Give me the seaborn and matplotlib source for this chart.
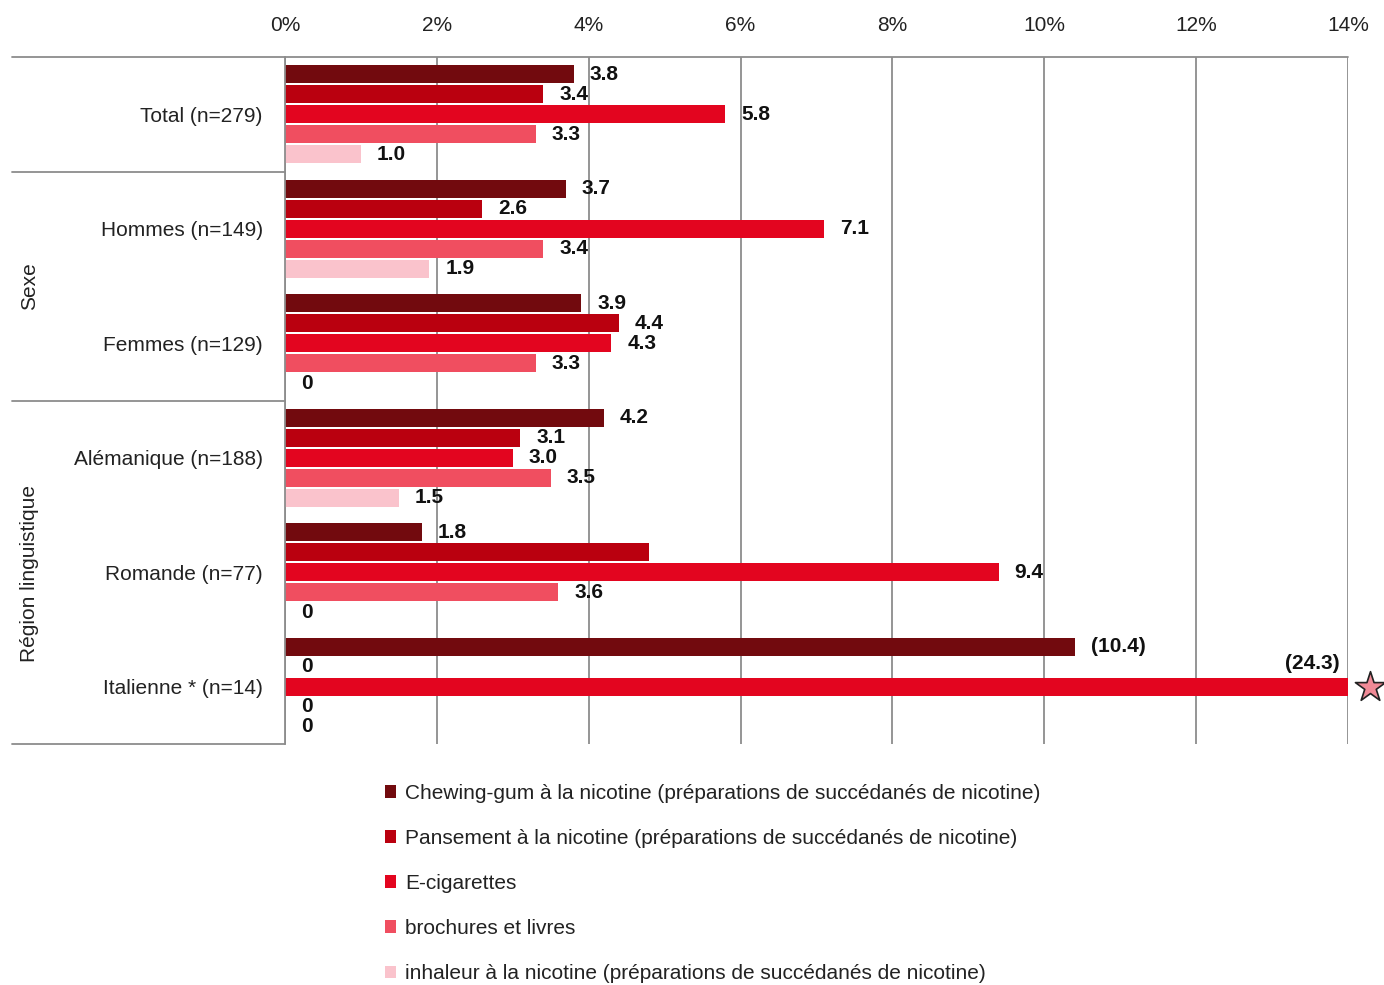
import pandas as pd
import matplotlib.pyplot as plt
import matplotlib.transforms as mtransforms
import seaborn as sns
import warnings
warnings.filterwarnings('ignore')

# --- data ---
categories = ['Total (n=279)', 'Hommes (n=149)', 'Femmes (n=129)',
              'Alémanique (n=188)', 'Romande (n=77)', 'Italienne * (n=14)']
series = ['Chewing-gum à la nicotine (préparations de succédanés de nicotine)',
          'Pansement à la nicotine (préparations de succédanés de nicotine)',
          'E-cigarettes',
          'brochures et livres',
          'inhaleur à la nicotine (préparations de succédanés de nicotine)']

chewing_gum = [3.8, 3.7, 3.9, 4.2, 1.8, 10.4]
pansement = [3.4, 2.6, 4.4, 3.1, 4.8, 0]
e_cig = [5.8, 7.1, 4.3, 3.0, 9.4, 24.3]
brochures = [3.3, 3.4, 3.3, 3.5, 3.6, 0]
inhaleur = [1.0, 1.9, 0, 1.5, 0, 0]

chewing_gum_lbl = ['3.8', '3.7', '3.9', '4.2', '1.8', '(10.4)']
pansement_lbl = ['3.4', '2.6', '4.4', '3.1', '', '0']
e_cig_lbl = ['5.8', '7.1', '4.3', '3.0', '9.4', '(24.3)']
brochures_lbl = ['3.3', '3.4', '3.3', '3.5', '3.6', '0']
inhaleur_lbl = ['1.0', '1.9', '0', '1.5', '0', '0']

colors = ['#720A0E', '#BA000F', '#E3051F', '#F04E60', '#FAC3CC']
x_max = 14

values = [chewing_gum, pansement, e_cig, brochures, inhaleur]
labels = [chewing_gum_lbl, pansement_lbl, e_cig_lbl, brochures_lbl, inhaleur_lbl]

rows = []
for s, vals in zip(series, values):
    for c, v in zip(categories, vals):
        rows.append({'Catégorie': c, 'Produit': s, 'Valeur': v})
df = pd.DataFrame(rows)

sns.set_theme(style='white')
plt.rcParams['font.family'] = ['Liberation Sans', 'DejaVu Sans']

fig = plt.figure(figsize=(13.84, 9.85), dpi=100)
ax = fig.add_axes([285 / 1384, 1 - 744 / 985, 1063 / 1384, 687 / 985])

sns.barplot(data=df, y='Catégorie', x='Valeur', hue='Produit', order=categories,
            hue_order=series, palette=colors, saturation=1, width=0.87, gap=0.1,
            orient='h', linewidth=0, ax=ax, legend=True)

ax.set_xlim(0, x_max)
ax.set_ylim(len(categories) - 0.5, -0.5)
ax.set_xticks(range(0, x_max + 1, 2))
ax.set_xticklabels([f'{t}%' for t in range(0, x_max + 1, 2)])
ax.xaxis.tick_top()
ax.set_xlabel('')
ax.set_ylabel('')
ax.tick_params(axis='x', length=0, pad=16, labelsize=15, colors='#222222')
ax.tick_params(axis='y', length=0, pad=16, labelsize=15, colors='#222222')
ax.grid(axis='x', color='#8c8c8c', linewidth=1.3)
ax.set_axisbelow(True)
for side in ['top', 'bottom', 'right']:
    ax.spines[side].set_visible(False)
ax.spines['left'].set_color('#8c8c8c')
ax.spines['left'].set_linewidth(1.3)

# separators extending into the label area
sep_tf = ax.get_yaxis_transform()
left_edge = (12 - 285) / 1063
ax.plot([left_edge, 1], [-0.5, -0.5], transform=sep_tf, color='#8c8c8c', lw=1.3, clip_on=False)
for yb in [0.5, 2.5, 5.5]:
    ax.plot([left_edge, 0], [yb, yb], transform=sep_tf, color='#8c8c8c', lw=1.3, clip_on=False)

# value labels
for cont, lbls in zip(ax.containers, labels):
    for bar, txt in zip(cont, lbls):
        if txt == '':
            continue
        w = bar.get_width()
        yc = bar.get_y() + bar.get_height() / 2
        if w > x_max:
            ax.annotate(txt, (x_max, yc), xytext=(-6, 17), textcoords='offset points',
                        ha='right', va='center', fontsize=15, fontweight='bold', color='#111111',
                        annotation_clip=False)
            ax.scatter([x_max], [yc], marker='*', s=520, facecolor='#F08A96', edgecolor='#222222',
                       linewidth=1.2, clip_on=False, zorder=5,
                       transform=ax.transData + mtransforms.ScaledTranslation(
                           22 / 100, 0, fig.dpi_scale_trans))
        else:
            ax.annotate(txt, (w, yc), xytext=(11.5, 0), textcoords='offset points',
                        ha='left', va='center', fontsize=15, fontweight='bold', color='#111111')

# group labels
fig.text(30 / 1384, 1 - 286 / 985, 'Sexe', rotation=90, ha='center', va='center',
         fontsize=15, color='#222222')
fig.text(30 / 1384, 1 - 573 / 985, 'Région linguistique', rotation=90, ha='center',
         va='center', fontsize=15, color='#222222')

# legend below the chart
handles, lbls = ax.get_legend_handles_labels()
ax.get_legend().remove()
fig.legend(handles, lbls, loc='upper left', bbox_to_anchor=(385 / 1384, 1 - 784 / 985),
           frameon=False, ncol=1, fontsize=15, handlelength=0.55, handleheight=0.55,
           handletextpad=0.4, labelspacing=1.25, borderaxespad=0, borderpad=0,
           labelcolor='#222222')

plt.savefig('out.png', dpi=100)
